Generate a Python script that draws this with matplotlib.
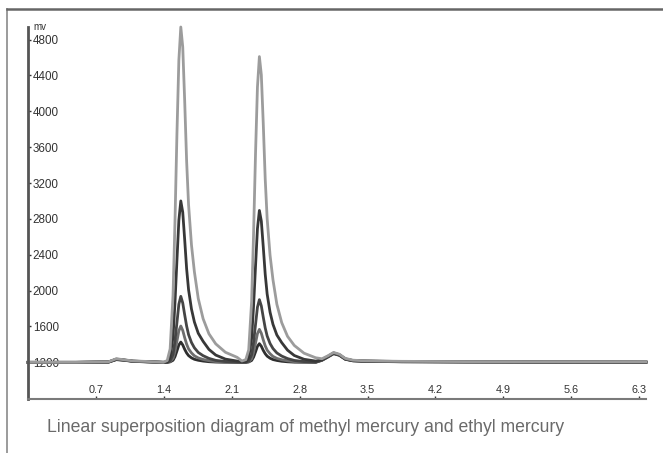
import matplotlib
matplotlib.use("Agg")
import matplotlib.pyplot as plt
from matplotlib.lines import Line2D

plt.rcParams['font.family'] = ['Liberation Sans', 'DejaVu Sans']

# retention time (min), shared by all traces
t_pre = [0.0, 0.5, 0.83, 0.91, 0.98, 1.08, 1.22]
t_pk1 = [1.395, 1.435, 1.465, 1.495, 1.515, 1.535, 1.555, 1.575, 1.595, 1.615,
         1.635, 1.655, 1.685, 1.715, 1.755, 1.805, 1.865, 1.935, 2.035, 2.155]
t_pk2 = [2.205, 2.245, 2.275, 2.305, 2.325, 2.345, 2.365, 2.385, 2.405, 2.425,
         2.445, 2.465, 2.495, 2.525, 2.565, 2.615, 2.675, 2.745, 2.845, 2.965]
t_post = [3.03, 3.09, 3.15, 3.21, 3.27, 3.35, 3.45, 3.65, 3.85, 4.5, 5.5, 6.37]
t = t_pre + t_pk1 + t_pk2 + t_post

# signal (mv) for the five concentrations
s1 = ([1200, 1200, 1206, 1240, 1230, 1216, 1210] +
      [1200, 1220, 1350, 1950, 2770, 3740, 4570, 4940, 4716, 4117,
       3444, 2958, 2509, 2210, 1911, 1686, 1518, 1406, 1312, 1256] +
      [1215, 1230, 1340, 1880, 2630, 3520, 4270, 4610, 4406, 3861,
       3247, 2803, 2394, 2121, 1848, 1643, 1490, 1388, 1302, 1251] +
      [1240, 1272, 1310, 1290, 1244, 1224, 1218, 1214, 1211, 1208, 1206, 1205])
s2 = ([1200, 1200, 1204, 1236, 1228, 1214, 1208] +
      [1200, 1205, 1254, 1488, 1866, 2334, 2784, 3000, 2874, 2568,
       2244, 2010, 1794, 1650, 1524, 1434, 1344, 1281, 1236, 1214] +
      [1206, 1210, 1251, 1471, 1827, 2267, 2691, 2894, 2775, 2487,
       2183, 1962, 1759, 1624, 1505, 1420, 1336, 1276, 1234, 1214] +
      [1230, 1266, 1305, 1285, 1239, 1220, 1215, 1212, 1209, 1206, 1204, 1203])
s3 = ([1200, 1200, 1205, 1232, 1226, 1213, 1207] +
      [1200, 1200, 1215, 1288, 1436, 1642, 1848, 1936, 1862, 1730,
       1605, 1509, 1421, 1362, 1310, 1274, 1244, 1222, 1209, 1203] +
      [1201, 1201, 1214, 1284, 1424, 1619, 1815, 1899, 1829, 1703,
       1584, 1494, 1410, 1354, 1305, 1270, 1242, 1221, 1208, 1203] +
      [1225, 1262, 1300, 1280, 1236, 1218, 1214, 1210, 1207, 1205, 1203, 1202])
s4 = ([1200, 1200, 1203, 1234, 1226, 1212, 1206] +
      [1200, 1200, 1208, 1245, 1322, 1435, 1552, 1605, 1556, 1475,
       1403, 1350, 1305, 1273, 1249, 1232, 1218, 1208, 1203, 1200] +
      [1200, 1200, 1207, 1240, 1310, 1413, 1520, 1568, 1524, 1450,
       1384, 1336, 1296, 1266, 1244, 1229, 1217, 1207, 1203, 1201] +
      [1226, 1263, 1302, 1282, 1237, 1219, 1213, 1211, 1208, 1205, 1203, 1202])
s5 = ([1200, 1200, 1202, 1230, 1224, 1211, 1205] +
      [1200, 1200, 1205, 1223, 1263, 1327, 1394, 1426, 1394, 1345,
       1304, 1275, 1250, 1234, 1223, 1214, 1207, 1203, 1201, 1200] +
      [1200, 1200, 1204, 1221, 1258, 1316, 1379, 1408, 1379, 1333,
       1296, 1269, 1246, 1231, 1221, 1212, 1206, 1202, 1201, 1200] +
      [1222, 1258, 1296, 1278, 1234, 1216, 1212, 1209, 1206, 1204, 1202, 1201])

traces = [s5, s4, s3, s2, s1]
colors = ['#2e2e2e', '#6e6e6e', '#454545', '#383838', '#9c9c9c']

xticks = [0.7, 1.4, 2.1, 2.8, 3.5, 4.2, 4.9, 5.6, 6.3]
yticks = [1200, 1600, 2000, 2400, 2800, 3200, 3600, 4000, 4400, 4800]
caption = "Linear superposition diagram of methyl mercury and ethyl mercury"

fig = plt.figure(figsize=(6.63, 4.53), dpi=100)
ax = fig.add_axes([28 / 663, 54 / 453, 618 / 663, 372 / 453])

for s, c in zip(traces, colors):
    ax.plot(t, s, color=c, lw=2.0, clip_on=False, solid_joinstyle='round')

ax.set_xlim(0, 6.37)
ax.set_ylim(791, 4940)

for side in ['top', 'right']:
    ax.spines[side].set_visible(False)
ax.spines['left'].set_color('#555555')
ax.spines['left'].set_linewidth(2)
ax.spines['bottom'].set_color('#7a7a7a')
ax.spines['bottom'].set_linewidth(1.5)

ax.set_xticks(xticks)
ax.set_xticklabels([str(v) for v in xticks])
ax.set_yticks(yticks)
ax.set_yticklabels([str(v) for v in yticks])
ax.tick_params(axis='x', direction='in', length=2, width=1, color='#333333',
               labelsize=7.8, labelcolor='#333333', pad=-3)
ax.tick_params(axis='y', direction='in', length=2, width=1, color='#333333',
               labelsize=8.4, labelcolor='#333333', pad=-3.5)
for lbl in ax.get_xticklabels():
    lbl.set_va('bottom')
for lbl in ax.get_yticklabels():
    lbl.set_ha('left')

ax.text(0.008, 1.0, "mv", transform=ax.transAxes, fontsize=7,
        color='#333333', ha='left', va='center')

# outer frame lines of the picture
fig.add_artist(Line2D([7 / 663, 7 / 663], [0, 1 - 9 / 453],
                      transform=fig.transFigure, color='#8a8a8a', lw=1.2))
fig.add_artist(Line2D([7 / 663, 1], [1 - 9 / 453, 1 - 9 / 453],
                      transform=fig.transFigure, color='#666666', lw=1.8))

fig.text(47 / 663, 1 - 428 / 453, caption, fontsize=12.7, color='#6a6a6a',
         ha='left', va='center')

fig.savefig("out.png", dpi=100)
